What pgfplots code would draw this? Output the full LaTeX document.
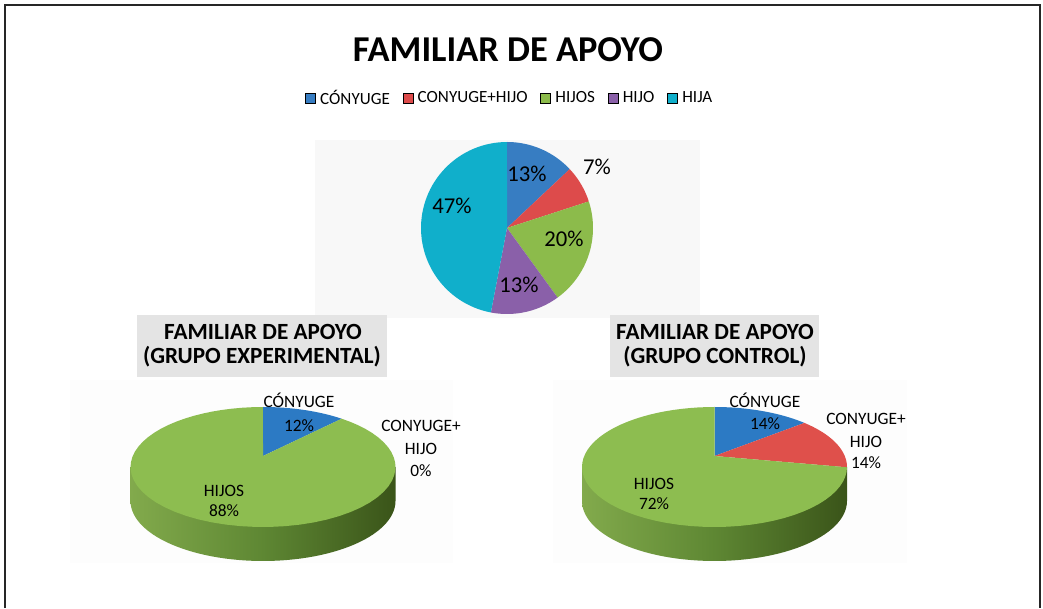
\documentclass[border=0pt]{standalone}
\usepackage{pgfplots}
\usepackage{pgfplotstable}
\usepackage{fontspec}
\setmainfont{Carlito}
\pgfplotsset{compat=1.18}

\definecolor{cblue}{HTML}{377DC2}
\definecolor{cred}{HTML}{DD4B4B}
\definecolor{cgreen}{HTML}{8CBB4B}
\definecolor{cpurple}{HTML}{8A60A9}
\definecolor{ccyan}{HTML}{10AFCB}
\definecolor{tdblue}{HTML}{2C7AC4}
\definecolor{tdred}{HTML}{DF504B}
\definecolor{tdgreen}{HTML}{8DBD50}
\definecolor{sideL}{HTML}{82AA4C}
\definecolor{sideM}{HTML}{5E8733}
\definecolor{sideR}{HTML}{3A5419}
\definecolor{boxgray}{HTML}{E4E4E4}
\definecolor{bgtop}{HTML}{F8F8F8}
\definecolor{bgbot}{HTML}{FDFDFD}

% ---- data (percent) ----
\pgfplotstableread{
grp value
CONYUGE 13
CONYUGEHIJO 7
HIJOS 20
HIJO 13
HIJA 47
}\topdata
\pgfplotstableread{
grp value
CONYUGE 12
CONYUGEHIJO 0
HIJOS 88
}\expdata
\pgfplotstableread{
grp value
CONYUGE 14
CONYUGEHIJO 14
HIJOS 72
}\ctrldata

\newcommand\getang[3]{\pgfplotstablegetelem{#2}{value}\of#1\pgfmathsetmacro#3{3.6*\pgfplotsretval}}
% top pie cumulative angles
\getang\topdata{0}\tA \getang\topdata{1}\tB \getang\topdata{2}\tC \getang\topdata{3}\tD
\pgfmathsetmacro\tAe{\tA}
\pgfmathsetmacro\tBe{\tAe+\tB}
\pgfmathsetmacro\tCe{\tBe+\tC}
\pgfmathsetmacro\tDe{\tCe+\tD}
% experimental
\getang\expdata{0}\eA \getang\expdata{1}\eB
\pgfmathsetmacro\eAe{\eA}
\pgfmathsetmacro\eBe{\eAe+\eB}
% control
\getang\ctrldata{0}\cA \getang\ctrldata{1}\cB
\pgfmathsetmacro\cAe{\cA}
\pgfmathsetmacro\cBe{\cAe+\cB}

% flat pie wedge: start, end, colour
\newcommand\flatwedge[3]{%
\addplot[fill=#3, draw=none, domain=#1:#2, samples=60, forget plot]
  ({507+86*sin(x)}, {228-86*cos(x)}) -- (axis cs:507,228) -- cycle;}
% perspective pie wedge: cx, start, end, colour
\newcommand\tdwedge[4]{%
\addplot[fill=#4, draw=none, domain=#2:#3, samples=60, forget plot]
  ({#1+132.5*sin(x)*0.9831/(1+0.183*cos(x))}, {467-60*(cos(x)+0.183)/(1+0.183*cos(x))}) -- (axis cs:#1,456) -- cycle;}
% side wall: cx, left x, right x
\newcommand\sidewall[3]{%
\addplot[draw=none, left color=sideL, right color=sideR, middle color=sideM, domain=90:270, samples=60, forget plot]
  ({#1+132.5*sin(x)}, {501-60*cos(x)}) -- (axis cs:#2,467) -- (axis cs:#3,467) -- cycle;}

\begin{document}
\begin{tikzpicture}
\begin{axis}[
  width=782.25pt, height=456pt, scale only axis,
  xmin=0, xmax=1043, ymin=0, ymax=608, y dir=reverse,
  axis lines=none, ticks=none, clip=false,
  legend columns=5,
  legend style={at={(axis cs:510,98)}, anchor=center, draw=none, fill=none,
    font=\fontsize{12.8}{15}\selectfont, inner sep=0pt,
    /tikz/every odd column/.append style={column sep=1.5pt},
    /tikz/every even column/.append style={column sep=7.5pt}},
  legend image code/.code={\fill[#1] (0pt,-3.75pt) rectangle (7.5pt,3.75pt);},
]
\addlegendimage{fill=cblue}
\addlegendimage{fill=cred}
\addlegendimage{fill=cgreen}
\addlegendimage{fill=cpurple}
\addlegendimage{fill=ccyan}
\legend{CÓNYUGE, CONYUGE+HIJO, HIJOS, HIJO, HIJA}

\fill[white] (axis cs:0,0) rectangle (axis cs:1043,608);
\fill[bgtop] (axis cs:315,140) rectangle (axis cs:700,318);
\fill[bgbot] (axis cs:70,380) rectangle (axis cs:453,563);
\fill[bgbot] (axis cs:553,380) rectangle (axis cs:907,563);

% title
\node[anchor=base, font=\fontsize{27.3}{32}\selectfont\bfseries] at (axis cs:508,62) {FAMILIAR DE APOYO};

% top pie
\flatwedge{0}{\tAe}{cblue}
\flatwedge{\tAe}{\tBe}{cred}
\flatwedge{\tBe}{\tCe}{cgreen}
\flatwedge{\tCe}{\tDe}{cpurple}
\flatwedge{\tDe}{360}{ccyan}
\begin{scope}[font=\fontsize{17}{20}\selectfont]
\node[anchor=base] at (axis cs:527,182) {13\%};
\node[anchor=base] at (axis cs:597,175) {7\%};
\node[anchor=base] at (axis cs:564,247) {20\%};
\node[anchor=base] at (axis cs:519,293) {13\%};
\node[anchor=base] at (axis cs:452,214) {47\%};
\end{scope}

% boxed sub-titles
\node[fill=boxgray, minimum width=187.5pt, minimum height=46.5pt, inner sep=0pt] at (axis cs:262,346) {};
\node[fill=boxgray, minimum width=156.75pt, minimum height=46.5pt, inner sep=0pt] at (axis cs:714.5,346) {};
\begin{scope}[font=\fontsize{17.4}{20}\selectfont\bfseries]
\node[anchor=base] at (axis cs:263,340) {FAMILIAR DE APOYO};
\node[anchor=base] at (axis cs:262,364) {(GRUPO EXPERIMENTAL)};
\node[anchor=base] at (axis cs:715,340) {FAMILIAR DE APOYO};
\node[anchor=base] at (axis cs:715,364) {(GRUPO CONTROL)};
\end{scope}

% experimental 3D pie
\sidewall{263}{130.5}{395.5}
\tdwedge{263}{0}{\eAe}{tdblue}
\tdwedge{263}{\eBe}{360}{tdgreen}
% control 3D pie
\sidewall{714.5}{582}{847}
\tdwedge{714.5}{0}{\cAe}{tdblue}
\tdwedge{714.5}{\cAe}{\cBe}{tdred}
\tdwedge{714.5}{\cBe}{360}{tdgreen}

\begin{scope}[font=\fontsize{13}{15}\selectfont]
\node[anchor=base] at (axis cs:299,408) {CÓNYUGE};
\node[anchor=base] at (axis cs:299,432) {12\%};
\node[anchor=base] at (axis cs:421,432) {CONYUGE+};
\node[anchor=base] at (axis cs:421,455) {HIJO};
\node[anchor=base] at (axis cs:421,477) {0\%};
\node[anchor=base] at (axis cs:224,497) {HIJOS};
\node[anchor=base] at (axis cs:224,517) {88\%};
\node[anchor=base] at (axis cs:765,408) {CÓNYUGE};
\node[anchor=base] at (axis cs:765,430) {14\%};
\node[anchor=base] at (axis cs:866,425) {CONYUGE+};
\node[anchor=base] at (axis cs:866,448) {HIJO};
\node[anchor=base] at (axis cs:866,469) {14\%};
\node[anchor=base] at (axis cs:654,490) {HIJOS};
\node[anchor=base] at (axis cs:654,510) {72\%};
\end{scope}

% frame
\draw[line width=1.5pt, black!85] (axis cs:5,608) -- (axis cs:5,5) -- (axis cs:1040,5) -- (axis cs:1040,608);
\end{axis}
\end{tikzpicture}
\end{document}
